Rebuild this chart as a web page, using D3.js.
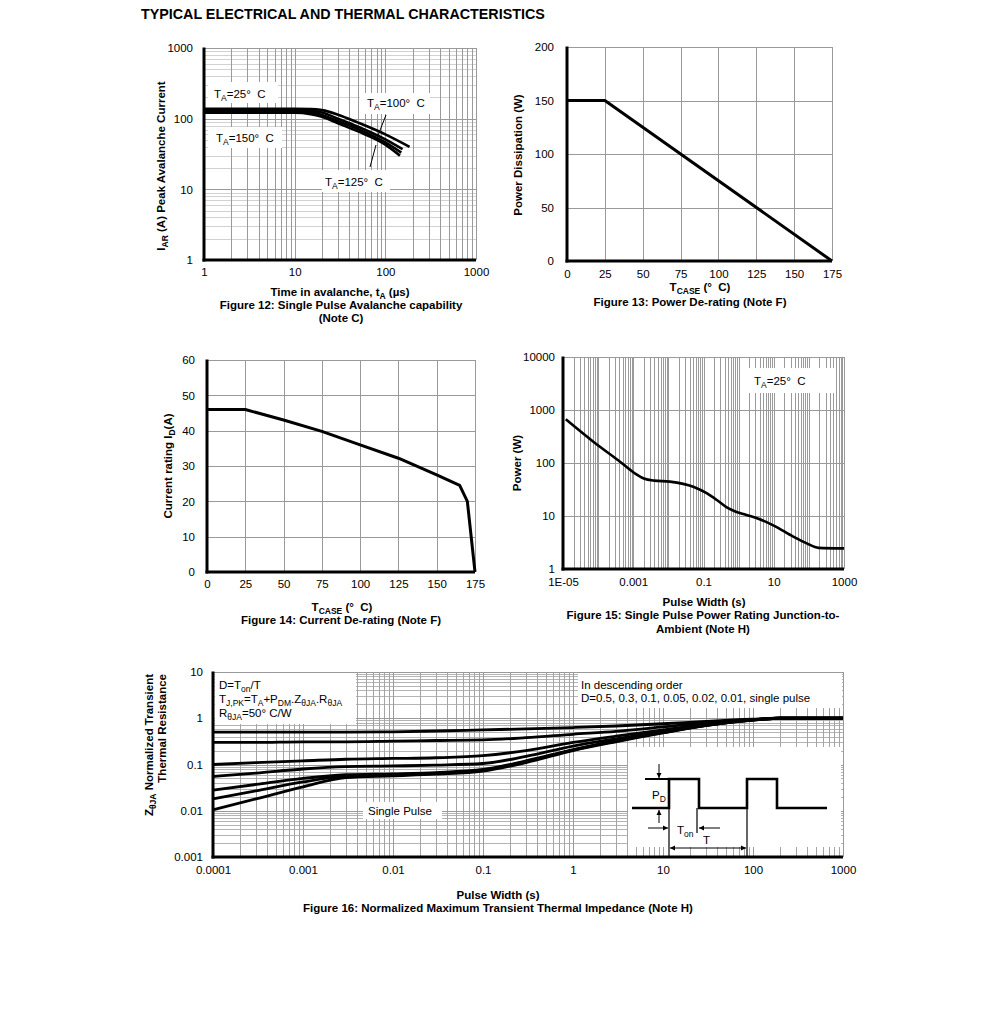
<!DOCTYPE html>
<html><head><meta charset="utf-8">
<script src="https://cdn.jsdelivr.net/npm/d3@7"></script>
<style>
body{margin:0;background:#fff;}
svg{font-family:"Liberation Sans",Arial,sans-serif;}
</style></head><body>
<svg id="c" width="991" height="1010"></svg>
<script>
// ---------------- DATA ----------------
// Figure 12: Single pulse avalanche capability
const avalTimes25  = [1, 10, 15, 20, 30, 50, 100, 185];
const avalCurr25   = [138, 138, 137, 132, 114, 88, 60, 40];
const avalTimes100 = [1, 10, 15, 20, 30, 50, 100, 155];
const avalCurr100  = [133, 133, 130, 122, 100, 77, 51, 37];
const avalTimes125 = [1, 10, 15, 20, 30, 50, 100, 150];
const avalCurr125  = [127, 127, 123, 113, 92, 71, 46, 33];
const avalTimes150 = [1, 10, 15, 20, 30, 50, 100, 145];
const avalCurr150  = [121, 121, 116, 106, 86, 66, 43, 30];
const fig12XTicks = [1, 10, 100, 1000];
const fig12XLabels = ["1", "10", "100", "1000"];
const fig12YTicks = [1, 10, 100, 1000];
const fig12YLabels = ["1", "10", "100", "1000"];

// Figure 13: Power de-rating
const pdTemp  = [0, 25, 175];
const pdPower = [150, 150, 0];
const fig13XTicks = [0, 25, 50, 75, 100, 125, 150, 175];
const fig13YTicks = [0, 50, 100, 150, 200];

// Figure 14: Current de-rating
const idTemp    = [0, 25, 50, 75, 100, 125, 150, 165, 170, 175];
const idCurrent = [46, 46, 43, 39.8, 36, 32.2, 27.5, 24.5, 20, 0];
const fig14XTicks = [0, 25, 50, 75, 100, 125, 150, 175];
const fig14YTicks = [0, 10, 20, 30, 40, 50, 60];

// Figure 15: Single pulse power rating
const spwWidth = [1.2e-5, 7.3e-5, 4.2e-4, 1.1e-3, 2e-3, 4e-3, 1.1e-2, 5.1e-2, 0.123, 0.24, 0.46, 0.8, 1.6, 3.2, 10, 36, 87, 187, 1000];
const spwPower = [667, 252, 106, 64, 51, 46.5, 44.6, 35.7, 26.9, 20, 14.5, 12.2, 10.6, 9.2, 6.6, 4.07, 3.05, 2.5, 2.45];
const fig15XTicks = [1e-5, 1e-3, 1e-1, 10, 1000];
const fig15XLabels = ["1E-05", "0.001", "0.1", "10", "1000"];
const fig15YTicks = [1, 10, 100, 1000, 10000];
const fig15YLabels = ["1", "10", "100", "1000", "10000"];

// Figure 16: Normalized transient thermal impedance
const zthWidth   = [1e-4, 3e-4, 1e-3, 3e-3, 1e-2, 3e-2, 0.1, 0.3, 1, 3, 10, 30, 100, 200, 1000];
const zthD050    = [0.5, 0.5, 0.5, 0.5, 0.51, 0.53, 0.56, 0.59, 0.63, 0.68, 0.76, 0.86, 0.96, 1.0, 1.0];
const zthD030    = [0.3, 0.3, 0.31, 0.31, 0.32, 0.33, 0.34, 0.38, 0.45, 0.52, 0.65, 0.8, 0.94, 1.0, 1.0];
const zthD010    = [0.1, 0.11, 0.12, 0.13, 0.135, 0.14, 0.155, 0.2, 0.3, 0.41, 0.56, 0.74, 0.93, 1.0, 1.0];
const zthD005    = [0.055, 0.065, 0.08, 0.09, 0.093, 0.097, 0.105, 0.15, 0.25, 0.36, 0.52, 0.71, 0.92, 1.0, 1.0];
const zthD002    = [0.028, 0.037, 0.05, 0.06, 0.063, 0.067, 0.078, 0.12, 0.21, 0.33, 0.5, 0.7, 0.92, 1.0, 1.0];
const zthD001    = [0.018, 0.027, 0.042, 0.056, 0.06, 0.064, 0.075, 0.115, 0.205, 0.32, 0.49, 0.7, 0.91, 1.0, 1.0];
const zthSingle  = [0.0105, 0.018, 0.033, 0.052, 0.057, 0.062, 0.072, 0.11, 0.2, 0.31, 0.48, 0.69, 0.91, 1.0, 1.0];
const fig16XTicks = [1e-4, 1e-3, 1e-2, 1e-1, 1, 10, 100, 1000];
const fig16XLabels = ["0.0001", "0.001", "0.01", "0.1", "1", "10", "100", "1000"];
const fig16YTicks = [0.001, 0.01, 0.1, 1, 10];
const fig16YLabels = ["0.001", "0.01", "0.1", "1", "10"];

// ---------------- HELPERS ----------------
const svg = d3.select("#c");
const GRID = "#9a9a9a";
const FS = "11.5px";
const DEG = "°\u00A0\u00A0C";

function logSteps(lo, hi) {
  const v = [];
  for (let e = lo; e < hi; e++) for (let m = 2; m < 10; m++) v.push(+(m * Math.pow(10, e)).toPrecision(3));
  return v;
}
function zip(xs, ys) { return xs.map((d, i) => [d, ys[i]]); }

function rich(sel, parts, subSize) {
  let shift = 0;
  parts.forEach(p => {
    const isSub = typeof p !== "string";
    const t = sel.append("tspan").text(isSub ? p.s : p);
    const target = isSub ? 3 : 0;
    if (target !== shift) { t.attr("dy", target - shift); shift = target; }
    if (isSub) t.attr("font-size", (subSize || 8.5) + "px");
  });
}

function panel(cfg) {
  const g = svg.append("g");
  const x = cfg.x, y = cfg.y;
  const [L, R] = x.range(), [B, T] = y.range();
  const px = v => Math.round(v) + 0.5;
  if (cfg.hMinor) g.append("g").selectAll("line").data(cfg.hMinor).join("line")
    .attr("x1", L).attr("x2", R).attr("y1", d => px(y(d))).attr("y2", d => px(y(d)))
    .attr("stroke", cfg.hMinorColor || "#c8c8c8").attr("stroke-width", 1);
  if (cfg.vMinor) g.append("g").selectAll("line").data(cfg.vMinor).join("line")
    .attr("y1", T).attr("y2", B).attr("x1", d => px(x(d))).attr("x2", d => px(x(d)))
    .attr("stroke", cfg.vMinorColor || GRID).attr("stroke-width", 1);
  g.append("g").selectAll("line").data(cfg.hMajor).join("line")
    .attr("x1", L).attr("x2", R).attr("y1", d => px(y(d))).attr("y2", d => px(y(d)))
    .attr("stroke", GRID).attr("stroke-width", 1);
  g.append("g").selectAll("line").data(cfg.vMajor).join("line")
    .attr("y1", T).attr("y2", B).attr("x1", d => px(x(d))).attr("x2", d => px(x(d)))
    .attr("stroke", GRID).attr("stroke-width", 1);
  const ax = d3.axisBottom(x).tickValues(cfg.xTicks).tickSize(0).tickPadding(cfg.xPad)
    .tickFormat((d, i) => cfg.xLabels ? cfg.xLabels[i] : d);
  const axg = g.append("g").attr("transform", `translate(0,${B})`).call(ax);
  axg.select(".domain").remove();
  axg.selectAll("text").attr("font-size", FS).attr("font-family", "Liberation Sans, Arial, sans-serif").attr("fill", "#000");
  const ay = d3.axisLeft(y).tickValues(cfg.yTicks).tickSize(0).tickPadding(cfg.yPad)
    .tickFormat((d, i) => cfg.yLabels ? cfg.yLabels[i] : d);
  const ayg = g.append("g").attr("transform", `translate(${L},0)`).call(ay);
  ayg.select(".domain").remove();
  ayg.selectAll("text").attr("font-size", FS).attr("font-family", "Liberation Sans, Arial, sans-serif").attr("fill", "#000");
  g.layers = { over: g.append("g"), curves: g.append("g"), axes: g.append("g") };
  const aw = cfg.axisW || 3;
  g.layers.axes.append("line").attr("x1", L).attr("x2", L).attr("y1", T - 0.5).attr("y2", B + aw / 2)
    .attr("stroke", "#000").attr("stroke-width", aw);
  g.layers.axes.append("line").attr("x1", L - aw / 2).attr("x2", R).attr("y1", B).attr("y2", B)
    .attr("stroke", "#000").attr("stroke-width", aw);
  return g;
}

function drawCurve(g, sx, sy, pts, w, curve) {
  g.layers.curves.append("path").datum(pts)
    .attr("d", d3.line().x(d => sx(d[0])).y(d => sy(d[1])).curve(curve || d3.curveLinear))
    .attr("fill", "none").attr("stroke", "#000").attr("stroke-width", w).attr("stroke-linejoin", "round");
}

function label(x, y, parts, opts = {}) {
  const t = svg.append("text").attr("x", x).attr("y", y)
    .attr("font-size", opts.size ? opts.size + "px" : FS)
    .attr("font-weight", opts.bold ? "bold" : null)
    .attr("text-anchor", opts.anchor || "start")
    .attr("fill", "#000");
  if (opts.rotate) t.attr("transform", `rotate(-90,${x},${y})`);
  rich(t, parts, opts.sub);
  return t;
}

function boxLabel(layer, rect, tx, ty, parts) {
  layer.append("rect").attr("x", rect[0]).attr("y", rect[1]).attr("width", rect[2]).attr("height", rect[3]).attr("fill", "#fff");
  const t = layer.append("text").attr("x", tx).attr("y", ty).attr("font-size", FS).attr("fill", "#000");
  rich(t, parts);
  return t;
}

// Title
label(141, 19, ["TYPICAL ELECTRICAL AND THERMAL CHARACTERISTICS"], { bold: true, size: 14.3 });

// ---------------- FIGURE 12 ----------------
{
  const x = d3.scaleLog().domain([1, 1000]).range([204, 476]);
  const y = d3.scaleLog().domain([1, 1000]).range([260, 48]);
  const g = panel({ x, y, vMajor: fig12XTicks, vMinor: logSteps(0, 3), hMajor: fig12YTicks, hMinor: logSteps(0, 3),
    hMinorColor: "#d2d2d2", xTicks: fig12XTicks, xLabels: fig12XLabels, yTicks: fig12YTicks, yLabels: fig12YLabels,
    xPad: 8, yPad: 11, axisW: 3 });
  const L = g.layers.over;
  boxLabel(L, [208, 82, 70, 21], 214, 98, ["T", { s: "A" }, "=25" + DEG]);
  boxLabel(L, [208, 127, 74, 21], 216, 142, ["T", { s: "A" }, "=150" + DEG]);
  boxLabel(L, [360, 93, 70, 21], 367, 107, ["T", { s: "A" }, "=100" + DEG]);
  boxLabel(L, [322, 170, 68, 22], 325, 186, ["T", { s: "A" }, "=125" + DEG]);
  [[avalTimes25, avalCurr25], [avalTimes100, avalCurr100], [avalTimes125, avalCurr125], [avalTimes150, avalCurr150]]
    .forEach(([t, c]) => drawCurve(g, x, y, zip(t, c), 2.6, d3.curveMonotoneX));
  L.append("line").attr("x1", 386).attr("y1", 115).attr("x2", 377).attr("y2", 138).attr("stroke", "#000").attr("stroke-width", 1);
  L.append("line").attr("x1", 370).attr("y1", 167).attr("x2", 376).attr("y2", 145).attr("stroke", "#000").attr("stroke-width", 1);
  label(340, 296, ["Time in avalanche, t", { s: "A" }, " (µs)"], { bold: true, anchor: "middle" });
  label(341, 309, ["Figure 12: Single Pulse Avalanche capability"], { bold: true, anchor: "middle" });
  label(341, 322, ["(Note C)"], { bold: true, anchor: "middle" });
  label(165, 166, ["I", { s: "AR" }, " (A) Peak Avalanche Current"], { bold: true, anchor: "middle", rotate: true });
}

// ---------------- FIGURE 13 ----------------
{
  const x = d3.scaleLinear().domain([0, 175]).range([567, 832]);
  const y = d3.scaleLinear().domain([0, 200]).range([261, 47]);
  const g = panel({ x, y, vMajor: fig13XTicks, hMajor: fig13YTicks, xTicks: fig13XTicks, yTicks: fig13YTicks,
    xPad: 9, yPad: 13, axisW: 3 });
  drawCurve(g, x, y, zip(pdTemp, pdPower), 3);
  label(700, 291, ["T", { s: "CASE" }, " (" + DEG + ")"], { bold: true, anchor: "middle" });
  label(690, 306, ["Figure 13: Power De-rating (Note F)"], { bold: true, anchor: "middle" });
  label(522, 155, ["Power Dissipation (W)"], { bold: true, anchor: "middle", rotate: true });
}

// ---------------- FIGURE 14 ----------------
{
  const x = d3.scaleLinear().domain([0, 175]).range([207, 475]);
  const y = d3.scaleLinear().domain([0, 60]).range([572, 360]);
  const g = panel({ x, y, vMajor: fig14XTicks, hMajor: fig14YTicks, xTicks: fig14XTicks, yTicks: fig14YTicks,
    xPad: 8, yPad: 12, axisW: 3 });
  drawCurve(g, x, y, zip(idTemp, idCurrent), 3);
  label(342, 611, ["T", { s: "CASE" }, " (" + DEG + ")"], { bold: true, anchor: "middle" });
  label(341, 624, ["Figure 14: Current De-rating (Note F)"], { bold: true, anchor: "middle" });
  label(172, 466, ["Current rating I", { s: "D" }, "(A)"], { bold: true, anchor: "middle", rotate: true });
}

// ---------------- FIGURE 15 ----------------
{
  const x = d3.scaleLog().domain([1e-5, 1000]).range([563, 844]);
  const y = d3.scaleLog().domain([1, 10000]).range([569, 357]);
  const g = panel({ x, y, vMajor: [1e-5, 1e-4, 1e-3, 1e-2, 1e-1, 1, 10, 100, 1000], vMinor: logSteps(-5, 3),
    hMajor: fig15YTicks, xTicks: fig15XTicks, xLabels: fig15XLabels, yTicks: fig15YTicks, yLabels: fig15YLabels,
    xPad: 9, yPad: 8, axisW: 3 });
  boxLabel(g.layers.over, [747, 368, 87, 25], 754, 385, ["T", { s: "A" }, "=25" + DEG]);
  drawCurve(g, x, y, zip(spwWidth, spwPower), 2.6, d3.curveMonotoneX);
  label(704, 606, ["Pulse Width (s)"], { bold: true, anchor: "middle" });
  label(703, 619, ["Figure 15: Single Pulse Power Rating Junction-to-"], { bold: true, anchor: "middle" });
  label(703, 633, ["Ambient (Note H)"], { bold: true, anchor: "middle" });
  label(521, 463, ["Power (W)"], { bold: true, anchor: "middle", rotate: true });
}

// ---------------- FIGURE 16 ----------------
{
  const x = d3.scaleLog().domain([1e-4, 1000]).range([213, 843]);
  const y = d3.scaleLog().domain([0.001, 10]).range([857, 672]);
  const g = panel({ x, y, vMajor: fig16XTicks, vMinor: logSteps(-4, 3), vMinorColor: "#a4a4a4",
    hMajor: fig16YTicks, hMinor: logSteps(-3, 1), hMinorColor: "#b4b4b4",
    xTicks: fig16XTicks, xLabels: fig16XLabels, yTicks: fig16YTicks, yLabels: fig16YLabels,
    xPad: 9, yPad: 10, axisW: 3 });
  const O = g.layers.over;
  O.append("rect").attr("x", 215).attr("y", 673).attr("width", 141).attr("height", 51).attr("fill", "#fff");
  const t1 = O.append("text").attr("x", 219).attr("y", 689).attr("font-size", FS);
  rich(t1, ["D=T", { s: "on" }, "/T"]);
  const t2 = O.append("text").attr("x", 219).attr("y", 703).attr("font-size", FS);
  rich(t2, ["T", { s: "J,PK" }, "=T", { s: "A" }, "+P", { s: "DM" }, ".Z", { s: "θJA" }, ".R", { s: "θJA" }]);
  const t3 = O.append("text").attr("x", 219).attr("y", 717).attr("font-size", FS);
  rich(t3, ["R", { s: "θJA" }, "=50° C/W"]);
  O.append("rect").attr("x", 578).attr("y", 673).attr("width", 264).attr("height", 35).attr("fill", "#fff");
  O.append("text").attr("x", 581).attr("y", 689).attr("font-size", FS).text("In descending order");
  O.append("text").attr("x", 581).attr("y", 702).attr("font-size", FS).text("D=0.5, 0.3, 0.1, 0.05, 0.02, 0.01, single pulse");
  boxLabel(O, [363, 802, 79, 17], 368, 815, ["Single Pulse"]);
  // inset pulse diagram (annotation)
  const ib = g.layers.curves.append("g").attr("transform", "translate(628,747)");
  ib.append("rect").attr("x", 0).attr("y", 0).attr("width", 213).attr("height", 100).attr("fill", "#fff");
  ib.append("path").attr("d", "M4,61H41V32H71V61H119V32H149V61H199").attr("fill", "none").attr("stroke", "#000").attr("stroke-width", 2.6);
  ib.append("path").attr("d", "M17,32H41").attr("stroke", "#000").attr("stroke-width", 2);
  ib.append("path").attr("d", "M41,61V110M119,61V110M69,61V86").attr("stroke", "#000").attr("stroke-width", 1.2);
  const arrow = (x1, y1, x2, y2) => {
    ib.append("line").attr("x1", x1).attr("y1", y1).attr("x2", x2).attr("y2", y2).attr("stroke", "#000").attr("stroke-width", 1);
    const a = Math.atan2(y2 - y1, x2 - x1), h = 5, w = 2.5;
    const p = [[x2, y2], [x2 - h * Math.cos(a) + w * Math.sin(a), y2 - h * Math.sin(a) - w * Math.cos(a)],
      [x2 - h * Math.cos(a) - w * Math.sin(a), y2 - h * Math.sin(a) + w * Math.cos(a)]];
    ib.append("polygon").attr("points", p.map(q => q.join(",")).join(" ")).attr("fill", "#000");
  };
  arrow(31, 17, 31, 31);
  arrow(31, 76, 31, 63);
  arrow(20, 81, 40, 81);
  arrow(92, 81, 71, 81);
  arrow(80, 101, 42, 101);
  arrow(80, 101, 118, 101);
  const pd = ib.append("text").attr("x", 24).attr("y", 52).attr("font-size", FS); rich(pd, ["P", { s: "D" }]);
  const ton = ib.append("text").attr("x", 49).attr("y", 87).attr("font-size", FS); rich(ton, ["T", { s: "on" }]);
  ib.append("text").attr("x", 75).attr("y", 97).attr("font-size", FS).text("T");
  [zthD050, zthD030, zthD010, zthD005, zthD002, zthD001, zthSingle]
    .forEach(s => drawCurve(g, x, y, zip(zthWidth, s), 2.8, d3.curveMonotoneX));
  label(498, 899, ["Pulse Width (s)"], { bold: true, anchor: "middle" });
  label(498, 912, ["Figure 16: Normalized Maximum Transient Thermal Impedance (Note H)"], { bold: true, anchor: "middle" });
  label(153, 674, ["Z", { s: "θJA" }, " Normalized Transient"], { bold: true, anchor: "end", rotate: true });
  label(166, 674, ["Thermal Resistance"], { bold: true, anchor: "end", rotate: true });
}
</script>
</body></html>
